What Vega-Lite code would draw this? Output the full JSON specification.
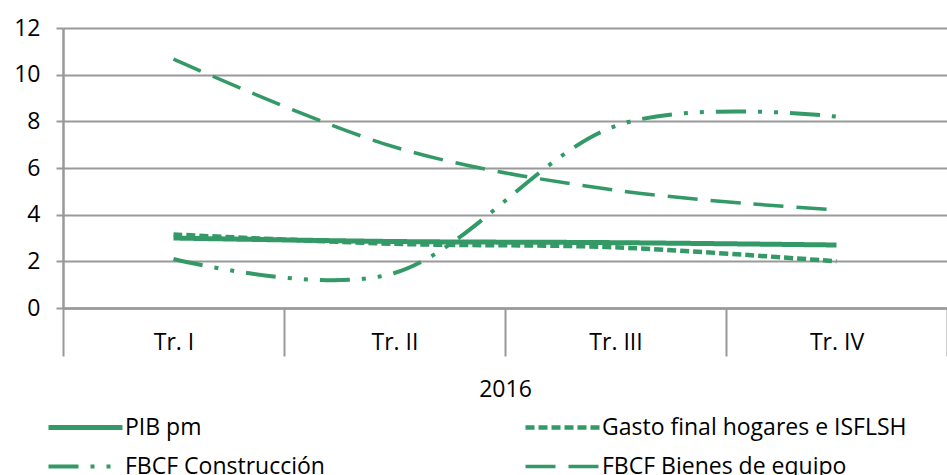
{
  "$schema": "https://vega.github.io/schema/vega-lite/v6.json",
  "autosize": "none",
  "padding": {"left": 63, "top": 28, "right": 0, "bottom": 167},
  "width": 884,
  "height": 280,
  "background": "white",
  "config": {
    "view": {"stroke": null},
    "font": "Open Sans"
  },
  "data": {
    "values": [
      {"q": "Tr. I", "serie": "PIB pm", "v": 3.0},
      {"q": "Tr. II", "serie": "PIB pm", "v": 2.85},
      {"q": "Tr. III", "serie": "PIB pm", "v": 2.8},
      {"q": "Tr. IV", "serie": "PIB pm", "v": 2.7},
      {"q": "Tr. I", "serie": "Gasto final hogares e ISFLSH", "v": 3.15},
      {"q": "Tr. II", "serie": "Gasto final hogares e ISFLSH", "v": 2.75},
      {"q": "Tr. III", "serie": "Gasto final hogares e ISFLSH", "v": 2.6},
      {"q": "Tr. IV", "serie": "Gasto final hogares e ISFLSH", "v": 2.0},
      {"q": "Tr. I", "serie": "FBCF Construcción", "v": 2.1},
      {"q": "Tr. II", "serie": "FBCF Construcción", "v": 1.5},
      {"q": "Tr. III", "serie": "FBCF Construcción", "v": 7.8},
      {"q": "Tr. IV", "serie": "FBCF Construcción", "v": 8.2},
      {"q": "Tr. I", "serie": "FBCF Bienes de equipo", "v": 10.67},
      {"q": "Tr. II", "serie": "FBCF Bienes de equipo", "v": 6.9},
      {"q": "Tr. III", "serie": "FBCF Bienes de equipo", "v": 5.05},
      {"q": "Tr. IV", "serie": "FBCF Bienes de equipo", "v": 4.2}
    ]
  },
  "mark": {"type": "line", "interpolate": "cardinal", "color": "#339966"},
  "encoding": {
    "x": {
      "field": "q",
      "type": "nominal",
      "sort": ["Tr. I", "Tr. II", "Tr. III", "Tr. IV"],
      "bandPosition": 0.5,
      "scale": {"type": "band", "paddingInner": 0, "paddingOuter": 0},
      "axis": {
        "title": "2016",
        "titleFont": "Open Sans",
        "titleFontSize": 23,
        "titleFontWeight": "normal",
        "titleColor": "#000000",
        "titlePadding": 21,
        "labelAngle": 0,
        "labelFont": "Open Sans",
        "labelFontSize": 23,
        "labelColor": "#000000",
        "labelPadding": -25,
        "tickBand": "extent",
        "tickSize": 48,
        "tickColor": "#999999",
        "tickWidth": 2,
        "domainColor": "#999999",
        "domainWidth": 2.5,
        "grid": false
      }
    },
    "y": {
      "field": "v",
      "type": "quantitative",
      "scale": {"domain": [0, 12], "nice": false, "zero": true},
      "axis": {
        "title": null,
        "values": [0, 2, 4, 6, 8, 10, 12],
        "labelFont": "Open Sans",
        "labelFontSize": 23,
        "labelColor": "#000000",
        "labelPadding": 16,
        "tickSize": 7,
        "tickColor": "#999999",
        "tickWidth": 2,
        "domainColor": "#999999",
        "domainWidth": 2.5,
        "grid": true,
        "gridColor": "#999999",
        "gridWidth": 2
      }
    },
    "strokeDash": {
      "field": "serie",
      "type": "nominal",
      "scale": {
        "domain": ["PIB pm", "Gasto final hogares e ISFLSH", "FBCF Construcción", "FBCF Bienes de equipo"],
        "range": [[1, 0], [9, 4], [30, 12, 4, 12, 4, 12], [30, 13]]
      },
      "legend": {
        "title": null,
        "orient": "none",
        "legendX": -17,
        "legendY": 387,
        "columns": 2,
        "direction": "horizontal",
        "symbolType": "stroke",
        "symbolSize": 5476,
        "symbolStrokeColor": "#339966",
        "clipHeight": 25,
        "labelFont": "Open Sans",
        "labelFontSize": 23,
        "labelColor": "#000000",
        "labelOffset": 0,
        "labelLimit": 400,
        "columnPadding": 198,
        "rowPadding": 14
      }
    },
    "strokeWidth": {
      "field": "serie",
      "type": "nominal",
      "scale": {
        "domain": ["PIB pm", "Gasto final hogares e ISFLSH", "FBCF Construcción", "FBCF Bienes de equipo"],
        "range": [5, 3.5, 3.2, 3.7]
      }
    }
  }
}
